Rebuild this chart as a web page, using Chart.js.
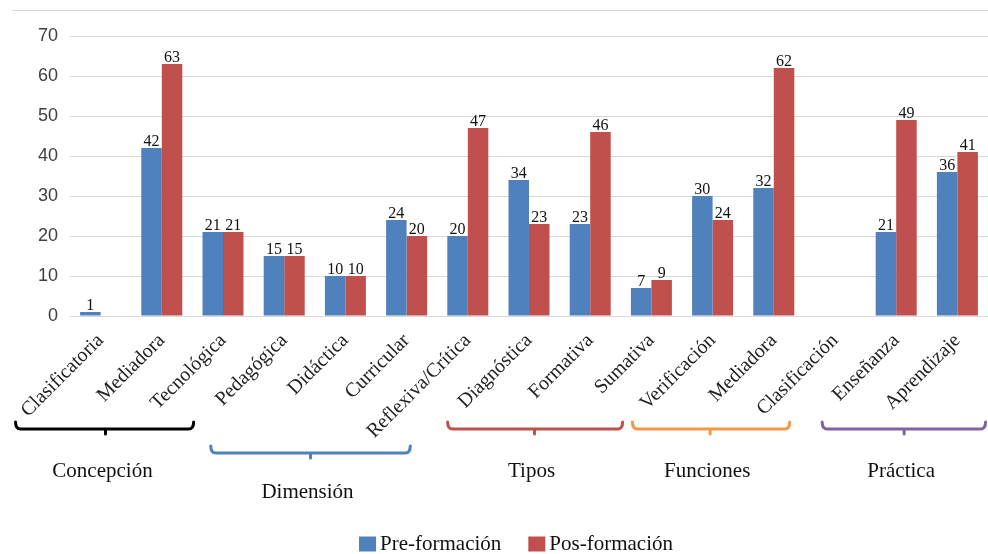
<!DOCTYPE html>
<html>
<head>
<meta charset="utf-8">
<script src="https://cdn.jsdelivr.net/npm/chart.js@4/dist/chart.umd.min.js"></script>
<style>
  html, body { margin: 0; padding: 0; background: #fff; }
  #wrap { width: 988px; height: 554px; position: relative; }
</style>
</head>
<body>
<div id="wrap"><canvas id="c" width="988" height="554"></canvas></div>
<script>
// Categories along the x axis
const categories = ['Clasificatoria', 'Mediadora', 'Tecnológica', 'Pedagógica', 'Didáctica',
  'Curricular', 'Reflexiva/Crítica', 'Diagnóstica', 'Formativa', 'Sumativa',
  'Verificación', 'Mediadora', 'Clasificación', 'Enseñanza', 'Aprendizaje'];

// Series values (null = no bar)
const preFormacion = [1, 42, 21, 15, 10, 24, 20, 34, 23, 7, 30, 32, null, 21, 36];
const posFormacion = [null, 63, 21, 15, 10, 20, 47, 23, 46, 9, 24, 62, null, 49, 41];

// Y axis tick values
const yTicks = [0, 10, 20, 30, 40, 50, 60, 70];

// Category groups (bracket span expressed in category units)
const groupNames  = ['Concepción', 'Dimensión', 'Tipos', 'Funciones', 'Práctica'];
const groupFrom   = [-1.39, 1.80, 5.67, 8.69, 11.79];
const groupTo     = [1.52, 5.06, 8.53, 11.26, 14.46];
const groupMid    = [0.08, 3.43, 7.09, 9.96, 13.13];
const groupRow    = [0, 1, 0, 0, 0];

const groupColors = ['#000000', '#4F81BD', '#C0504D', '#F79646', '#8064A2'];
const seriesColors = ['#4F81BD', '#C0504D'];
const SERIF = '"Liberation Serif", "Times New Roman", serif';

// Thin frame line across the top
const framePlugin = {
  id: 'frame',
  beforeDraw(chart) {
    const ctx = chart.ctx;
    ctx.save();
    ctx.strokeStyle = '#d9d9d9';
    ctx.lineWidth = 1;
    ctx.beginPath();
    ctx.moveTo(12, 10.5);
    ctx.lineTo(chart.width, 10.5);
    ctx.stroke();
    ctx.restore();
  }
};

// Value labels above each bar
const valueLabels = {
  id: 'valueLabels',
  afterDatasetsDraw(chart) {
    const ctx = chart.ctx;
    ctx.save();
    ctx.font = '16px ' + SERIF;
    ctx.fillStyle = '#111';
    ctx.textAlign = 'center';
    ctx.textBaseline = 'alphabetic';
    chart.data.datasets.forEach((ds, di) => {
      const meta = chart.getDatasetMeta(di);
      meta.data.forEach((bar, i) => {
        const v = ds.data[i];
        if (v === null || v === undefined) return;
        ctx.fillText(String(v), bar.x, bar.y - 2);
      });
    });
    ctx.restore();
  }
};

// Brackets grouping the categories, with their captions
const groupBrackets = {
  id: 'groupBrackets',
  afterDraw(chart) {
    const ctx = chart.ctx;
    const xs = chart.scales.x;
    const base = chart.chartArea.bottom;
    const rows = [
      { line: base + 113, label: base + 155 },
      { line: base + 137, label: base + 176 }
    ];
    ctx.save();
    groupNames.forEach((name, g) => {
      const r = rows[groupRow[g]];
      const x0 = xs.getPixelForValue(groupFrom[g]);
      const x1 = xs.getPixelForValue(groupTo[g]);
      const xm = xs.getPixelForValue(groupMid[g]);
      const y = r.line;
      ctx.strokeStyle = groupColors[g];
      ctx.lineWidth = 3;
      ctx.lineJoin = 'round';
      ctx.lineCap = 'round';
      ctx.beginPath();
      ctx.moveTo(x0, y - 7);
      ctx.quadraticCurveTo(x0, y, x0 + 5, y);
      ctx.lineTo(x1 - 5, y);
      ctx.quadraticCurveTo(x1, y, x1, y - 7);
      ctx.moveTo(xm, y);
      ctx.lineTo(xm, y + 5);
      ctx.stroke();

      ctx.fillStyle = '#111';
      ctx.font = '21px ' + SERIF;
      ctx.textAlign = 'center';
      ctx.textBaseline = 'middle';
      ctx.fillText(name, xm - 3, r.label);
    });
    ctx.restore();
  }
};

// Legend row at the bottom, built from the datasets
const bottomLegend = {
  id: 'bottomLegend',
  afterDraw(chart) {
    const ctx = chart.ctx;
    ctx.save();
    ctx.font = '21px ' + SERIF;
    ctx.textBaseline = 'middle';
    ctx.textAlign = 'left';
    const box = 17, boxH = 15, gap = 4, spacing = 27;
    const items = chart.data.datasets.map(ds => ({ text: ds.label, color: ds.backgroundColor }));
    const widths = items.map(it => box + gap + ctx.measureText(it.text).width);
    const total = widths.reduce((a, b) => a + b, 0) + spacing * (items.length - 1);
    let x = chart.width / 2 + 22 - total / 2;
    const yc = chart.height - 10;
    items.forEach((it, i) => {
      ctx.fillStyle = it.color;
      ctx.fillRect(x, yc - boxH / 2, box, boxH);
      ctx.fillStyle = '#111';
      ctx.fillText(it.text, x + box + gap, yc);
      x += widths[i] + spacing;
    });
    ctx.restore();
  }
};

new Chart(document.getElementById('c'), {
  type: 'bar',
  data: {
    labels: categories,
    datasets: [
      { label: 'Pre-formación', data: preFormacion, backgroundColor: seriesColors[0] },
      { label: 'Pos-formación', data: posFormacion, backgroundColor: seriesColors[1] }
    ]
  },
  options: {
    responsive: false,
    devicePixelRatio: 1,
    animation: false,
    layout: { padding: { top: 36, left: 0, right: 0, bottom: 30 } },
    datasets: { bar: { categoryPercentage: 0.67, barPercentage: 1.0 } },
    plugins: {
      tooltip: { enabled: false },
      legend: { display: false }
    },
    scales: {
      x: {
        grid: { display: false },
        border: { display: false },
        ticks: {
          autoSkip: false,
          minRotation: 45,
          maxRotation: 45,
          padding: 5,
          color: '#222',
          font: { family: SERIF, size: 20 }
        },
        afterFit(scale) { scale.height = 208; }
      },
      y: {
        min: 0,
        max: 70,
        afterBuildTicks(scale) { scale.ticks = yTicks.map(v => ({ value: v })); },
        grid: { color: '#d9d9d9', lineWidth: 1, drawTicks: false },
        border: { display: false },
        ticks: {
          padding: 12,
          color: '#404040',
          font: { family: '"Liberation Sans", Arial, sans-serif', size: 18 }
        },
        afterFit(scale) { scale.width = 70; }
      }
    }
  },
  plugins: [framePlugin, valueLabels, groupBrackets, bottomLegend]
});
</script>
</body>
</html>
